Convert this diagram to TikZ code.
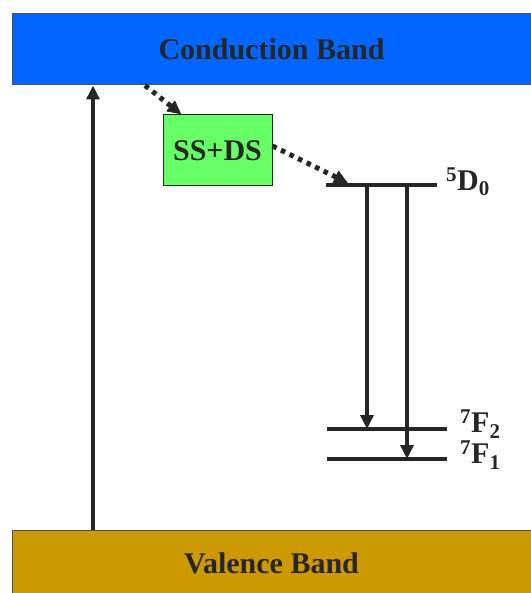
\documentclass[tikz,border=0pt]{standalone}
\usepackage{fontspec}
\setmainfont{Liberation Serif}
\usetikzlibrary{arrows.meta}
\definecolor{cbblue}{RGB}{0,102,255}\definecolor{ssgreen}{RGB}{102,255,102}\definecolor{vbgold}{RGB}{204,153,0}\definecolor{ink}{RGB}{38,38,38}
\tikzset{>={Triangle[length=14pt,width=13pt]},every node/.style={font=\bfseries\fontsize{30}{32}\selectfont,text=ink},band/.style={draw=ink!80,line width=1pt,minimum width=519pt,inner sep=0pt},level/.style={ink,line width=4.5pt},trans/.style={ink,line width=3.5pt,->},relax/.style={ink,line width=5pt,dash pattern=on 4.5pt off 5pt,->}}

\begin{document}
\begin{tikzpicture}[x=1pt,y=-1pt]
\useasboundingbox (0,0) rectangle (530,593);
\node[band,fill=cbblue,minimum height=71pt] (cb) at (271.5,49.5){Conduction Band};\node[band,fill=vbgold,minimum height=66pt] (vb) at (271.5,563){\raisebox{-3pt}{Valence Band}};
\node[draw=ink,line width=1pt,fill=ssgreen,minimum width=109pt,minimum height=71pt,inner sep=0pt] (ss) at (217.5,150.5){SS+DS};
% levels
\coordinate (d0l) at (326,185);\coordinate (d0r) at (437,185);\coordinate (f2l) at (327,429);\coordinate (f2r) at (447,429);\coordinate (f1l) at (327,459);\coordinate (f1r) at (447,459);
\draw[level] (d0l)--(d0r);\draw[level] (f2l)--(f2r);\draw[level] (f1l)--(f1r);
\node[anchor=west,inner sep=0pt] (d0) at (446,182){\textsuperscript{5}D\textsubscript{0}};\node[anchor=west,inner sep=0pt] (f2) at (460,424){\textsuperscript{7}F\textsubscript{2}};\node[anchor=west,inner sep=0pt] (f1) at (460,455){\textsuperscript{7}F\textsubscript{1}};
% transitions
\coordinate (ex) at (93,300);\coordinate (em1) at (367,300);\coordinate (em2) at (407,300);\coordinate (r1) at (145,100);
\draw[trans] (ex|-vb.north)--(ex|-cb.south);\draw[trans] (em1|-d0l)--(em1|-f2l);\draw[trans] (em2|-d0l)--(em2|-f1l);
\draw[relax] (r1|-cb.south)--([xshift=19pt]ss.north west);\draw[relax] ([yshift=4.5pt]ss.east)--([xshift=22pt,yshift=2pt]d0l);
\end{tikzpicture}
\end{document}
